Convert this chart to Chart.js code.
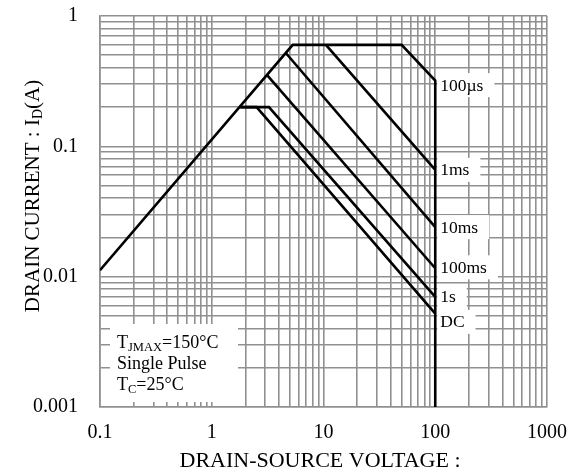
<!DOCTYPE html>
<html>
<head>
<meta charset="utf-8">
<script src="https://cdn.jsdelivr.net/npm/chart.js@4"></script>
<style>
  html, body { margin: 0; padding: 0; background: #fff; }
  #wrap { width: 570px; height: 474px; }
</style>
</head>
<body>
<div id="wrap"><canvas id="soa" width="570" height="474"></canvas></div>
<script>
// axis decades and the 1..9 steps inside each decade
const xDecades = [0.1, 1, 10, 100];
const yDecades = [0.001, 0.01, 0.1];
const minorSteps = [1, 2, 3, 4, 5, 6, 7, 8, 9];
const xLabelTicks = [0.1, 1, 10, 100, 1000];
const yLabelTicks = [0.001, 0.01, 0.1, 1];

// SOA curves (V, A)
const limitV = [0.1, 5.3, 50, 100, 100];
const limitI = [0.0112, 0.6, 0.6, 0.32, 0.001];
const ms1V = [10.5, 100];
const ms1I = [0.6, 0.066];
const ms10V = [4.6, 100];
const ms10I = [0.52, 0.024];
const ms100V = [3.1, 100];
const ms100I = [0.355, 0.0116];
const s1V = [1.8, 3.25, 100];
const s1I = [0.2, 0.2, 0.007];
const dcV = [1.8, 2.52, 100];
const dcI = [0.2, 0.2, 0.0052];

const curveLabels = ['100µs', '1ms', '10ms', '100ms', '1s', 'DC'];
const curveLabelI = [0.295, 0.066, 0.024, 0.0118, 0.007, 0.0045];

const FONT = "'Liberation Serif', 'Times New Roman', serif";
const GRID = '#909090';

const pts = (xs, ys) => xs.map((x, i) => ({ x: x, y: ys[i] }));
const logTicks = (decades, last) => {
    const out = [];
    decades.forEach(d => minorSteps.forEach(m => out.push(Number((d * m).toPrecision(3)))));
    out.push(last);
    return out;
};
const xTicks = logTicks(xDecades, 1000);
const yTicks = logTicks(yDecades, 1);

const line = (xs, ys) => ({
    data: pts(xs, ys), borderColor: '#000', borderWidth: 2.6, pointRadius: 0,
    fill: false, tension: 0, borderJoinStyle: 'miter', borderCapStyle: 'butt'
});

const noPad = s => { s.paddingLeft = 0; s.paddingRight = 0; s.paddingTop = 0; s.paddingBottom = 0; };

// draw a run of [text, size, dy] pieces left to right
function runText(ctx, parts, x, y) {
    parts.forEach(p => {
        ctx.font = p[1] + 'px ' + FONT;
        ctx.fillText(p[0], x, y + p[2]);
        x += ctx.measureText(p[0]).width;
    });
}

const overlay = {
    id: 'overlay',
    beforeDatasetsDraw(chart) {
        const ctx = chart.ctx;
        const xs = chart.scales.x, ys = chart.scales.y;
        ctx.save();
        // curve labels at the 100 V wall
        ctx.font = '17.5px ' + FONT;
        ctx.textBaseline = 'middle';
        const x0 = xs.getPixelForValue(100);
        curveLabels.forEach((t, i) => {
            const y = ys.getPixelForValue(curveLabelI[i]);
            const w = ctx.measureText(t).width;
            ctx.fillStyle = '#fff';
            ctx.fillRect(x0 + 2, y - 12, w + 14, 24);
            ctx.fillStyle = '#000';
            ctx.fillText(t, x0 + 5, y + 1);
        });
        // conditions box
        ctx.fillStyle = '#fff';
        ctx.fillRect(110, 324, 128, 78);
        ctx.fillStyle = '#000';
        runText(ctx, [['T', 18, 0], ['JMAX', 12.5, 5], ['=150°C', 18, 0]], 117, 343);
        runText(ctx, [['Single Pulse', 18, 0]], 117, 364);
        runText(ctx, [['T', 18, 0], ['C', 12.5, 5], ['=25°C', 18, 0]], 117, 385);
        ctx.restore();
    },
    afterDraw(chart) {
        const ctx = chart.ctx;
        ctx.save();
        ctx.fillStyle = '#000';
        ctx.textBaseline = 'middle';
        // x title
        ctx.font = '22px ' + FONT;
        ctx.textAlign = 'center';
        ctx.fillText('DRAIN-SOURCE VOLTAGE :', 320, 461);
        // y title with subscript
        ctx.translate(33, 196);
        ctx.rotate(-Math.PI / 2);
        ctx.textAlign = 'left';
        const parts = [['DRAIN CURRENT : I', 21, 0], ['D', 14, 5], ['(A)', 21, 0]];
        let total = 0;
        parts.forEach(p => { ctx.font = p[1] + 'px ' + FONT; total += ctx.measureText(p[0]).width; });
        runText(ctx, parts, -total / 2, 0);
        ctx.restore();
    }
};

new Chart(document.getElementById('soa'), {
    type: 'line',
    data: {
        datasets: [
            line(limitV, limitI), line(ms1V, ms1I), line(ms10V, ms10I),
            line(ms100V, ms100I), line(s1V, s1I), line(dcV, dcI)
        ]
    },
    options: {
        responsive: false,
        animation: false,
        layout: { padding: { left: 0, top: 16, right: 23, bottom: 0 } },
        plugins: { legend: { display: false }, tooltip: { enabled: false } },
        scales: {
            x: {
                type: 'logarithmic', min: 0.1, max: 1000,
                afterBuildTicks: s => { s.ticks = xTicks.map(v => ({ value: v })); },
                afterFit: s => { s.height = 67; noPad(s); },
                grid: { color: GRID, lineWidth: 1.6, drawTicks: false },
                border: { color: GRID, width: 1.6 },
                ticks: {
                    autoSkip: false, maxRotation: 0, padding: 14, color: '#000',
                    font: { family: FONT, size: 20 },
                    callback: v => xLabelTicks.includes(v) ? String(v) : ''
                }
            },
            y: {
                type: 'logarithmic', min: 0.001, max: 1,
                afterBuildTicks: s => { s.ticks = yTicks.map(v => ({ value: v })); },
                afterFit: s => { s.width = 100; noPad(s); },
                grid: { color: GRID, lineWidth: 1.6, drawTicks: false },
                border: { color: GRID, width: 1.6 },
                ticks: {
                    autoSkip: false, padding: 22, color: '#000',
                    font: { family: FONT, size: 20 },
                    callback: v => yLabelTicks.includes(v) ? String(v) : ''
                }
            }
        }
    },
    plugins: [overlay]
});
</script>
</body>
</html>
